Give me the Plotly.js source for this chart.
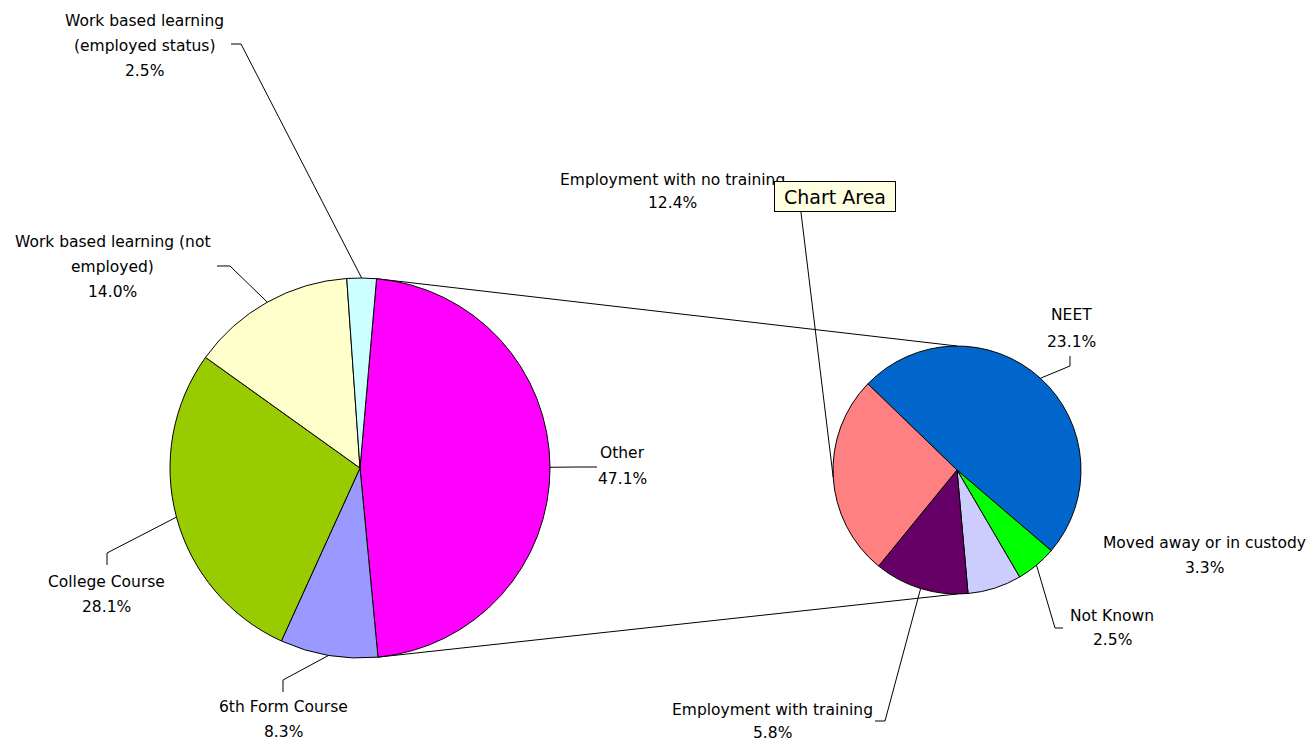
<!DOCTYPE html>
<html>
<head>
<meta charset="utf-8">
<script src="https://cdn.plot.ly/plotly-3.0.1.min.js"></script>
<style>html,body{margin:0;padding:0;background:#fff;}#chart{width:1310px;height:741px;}</style>
</head>
<body>
<div id="chart"></div>
<script>
// ---- data ----
const mainLabels = ["Other", "6th Form Course", "College Course", "Work based learning (not employed)", "Work based learning (employed status)"];
const mainValues = [47.1, 8.3, 28.1, 14.0, 2.5];
const mainColors = ["#FF00FF", "#9999FF", "#99CC00", "#FFFFCC", "#CCFFFF"];

const secLabels = ["NEET", "Not Known", "Moved away or in custody", "Employment with training", "Employment with no training"];
const secValues = [23.1, 2.5, 3.3, 5.8, 12.4];
const secColors = ["#0066CC", "#00FF00", "#CCCCFF", "#660066", "#FF8080"];

// ---- layout (pixel positions of the page) ----
const W = 1310, H = 741;
const FONT = "DejaVu Sans";
const mainGeo = {cx: 360, cy: 468, r: 190, rot: 5};
const secGeo = {cx: 957, cy: 470, r: 124, rot: -46};

// label text wrapping and positions (first line y, line gap, elbow points)
const mainLabelLayout = [
  {lines: ["Other"], x: 622, y: 453, gap: 26, path: [[597, 467], [578, 467]]},
  {lines: ["6th Form Course"], x: 283, y: 707, gap: 25, path: [[283, 692], [283, 680]]},
  {lines: ["College Course"], x: 107, y: 582, gap: 25, path: [[107, 565], [107, 553]]},
  {lines: ["Work based learning (not", "employed)"], x: 113, y: 242, gap: 25, path: [[217, 266], [230, 266]]},
  {lines: ["Work based learning", "(employed status)"], x: 144, y: 21, gap: 25, path: [[231, 44], [241, 44]]}
];
const secLabelLayout = [
  {lines: ["NEET"], x: 1071, y: 315, gap: 27, path: [[1070, 356], [1070, 366]]},
  {lines: ["Not Known"], x: 1112, y: 616, gap: 24, path: [[1063, 628], [1055, 628]]},
  {lines: ["Moved away or in custody"], x: 1204, y: 543, gap: 25, path: null},
  {lines: ["Employment with training"], x: 772, y: 710, gap: 23, path: [[875, 721], [885, 721]]},
  {lines: ["Employment with no training"], x: 673, y: 180, gap: 23, path: [[792, 190], [799, 196]]}
];

function px(x) { return x / W; }
function py(y) { return 1 - y / H; }
function domainOf(g) {
  return {x: [px(g.cx - g.r), px(g.cx + g.r)], y: [py(g.cy + g.r), py(g.cy - g.r)]};
}
function edgePoint(g, deg) {
  const a = deg * Math.PI / 180;
  return [g.cx + g.r * Math.sin(a), g.cy - g.r * Math.cos(a)];
}
function midAngles(values, rot) {
  const tot = values.reduce((s, v) => s + v, 0);
  let cum = 0;
  return values.map(v => { const m = rot + 360 * (cum + v / 2) / tot; cum += v; return m; });
}

const traces = [
  {type: "pie", labels: mainLabels, values: mainValues, sort: false, direction: "clockwise",
   rotation: mainGeo.rot, marker: {colors: mainColors, line: {color: "#000", width: 1}},
   textinfo: "none", hoverinfo: "label+value", domain: domainOf(mainGeo), showlegend: false},
  {type: "pie", labels: secLabels, values: secValues, sort: false, direction: "clockwise",
   rotation: secGeo.rot, marker: {colors: secColors, line: {color: "#000", width: 1}},
   textinfo: "none", hoverinfo: "label+value", domain: domainOf(secGeo), showlegend: false}
];

const annotations = [];
const shapes = [];

function addLabels(values, layoutArr, g) {
  const mids = midAngles(values, g.rot);
  layoutArr.forEach((L, i) => {
    const lines = L.lines.concat([values[i].toFixed(1) + "%"]);
    lines.forEach((t, k) => {
      annotations.push({xref: "paper", yref: "paper", x: px(L.x), y: py(L.y + k * L.gap),
        text: t, showarrow: false, xanchor: "center", yanchor: "middle",
        font: {family: FONT, size: 15.5, color: "#000"}});
    });
    if (L.path) {
      const e = edgePoint(g, mids[i]);
      const pts = L.path.concat([e]);
      const d = pts.map((p, k) => (k ? "L" : "M") + px(p[0]).toFixed(5) + "," + py(p[1]).toFixed(5)).join(" ");
      shapes.push({type: "path", xref: "paper", yref: "paper", path: d, line: {color: "#000", width: 1}});
    }
  });
}
addLabels(mainValues, mainLabelLayout, mainGeo);
addLabels(secValues, secLabelLayout, secGeo);

// pie-of-pie connector lines: edges of the "Other" slice to top/bottom of the secondary pie
const mainTot = mainValues.reduce((s, v) => s + v, 0);
const otherStart = edgePoint(mainGeo, mainGeo.rot);
const otherEnd = edgePoint(mainGeo, mainGeo.rot + 360 * mainValues[0] / mainTot);
const secTop = [secGeo.cx, secGeo.cy - secGeo.r];
const secBot = [secGeo.cx, secGeo.cy + secGeo.r];
[[otherStart, secTop], [otherEnd, secBot]].forEach(([a, b]) => {
  shapes.push({type: "line", xref: "paper", yref: "paper", layer: "below",
    x0: px(a[0]), y0: py(a[1]), x1: px(b[0]), y1: py(b[1]), line: {color: "#000", width: 1}});
});

// tooltip box present in the original screenshot
annotations.push({xref: "paper", yref: "paper", x: px(835), y: py(196), text: "Chart Area",
  showarrow: false, xanchor: "center", yanchor: "middle", width: 118, height: 27,
  bgcolor: "#FFFFE1", bordercolor: "#000", borderwidth: 1, borderpad: 1,
  font: {family: FONT, size: 19, color: "#000"}});

const layout = {
  width: W, height: H, margin: {l: 0, r: 0, t: 0, b: 0},
  paper_bgcolor: "#fff", plot_bgcolor: "#fff", showlegend: false,
  annotations: annotations, shapes: shapes
};
Plotly.newPlot("chart", traces, layout, {displayModeBar: false, staticPlot: true});
</script>
</body>
</html>
